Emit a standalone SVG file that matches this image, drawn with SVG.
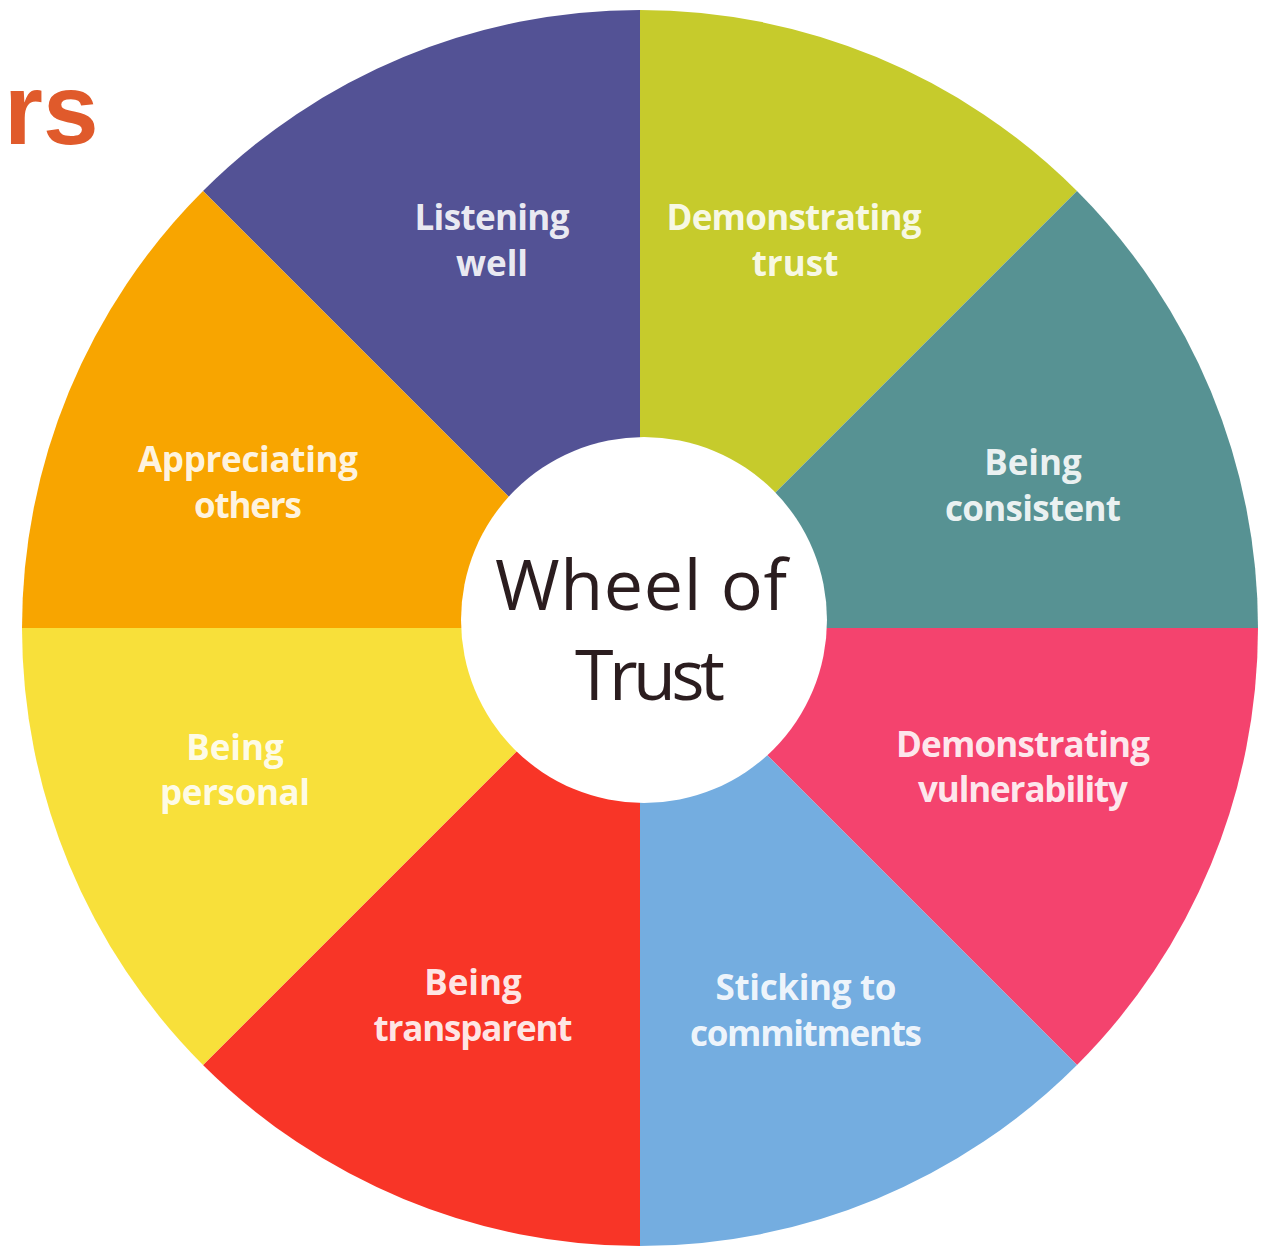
<svg xmlns="http://www.w3.org/2000/svg" width="1269" height="1246" viewBox="0 0 1269 1246">
  <style>
    .lbl { font-family: "Open Sans", "Noto Sans", "Liberation Sans", sans-serif; font-weight: 700; font-size: 35px; fill: #ffffff; fill-opacity: 0.9; text-anchor: middle; }
    .hub { font-family: "Open Sans", "Noto Sans", "Liberation Sans", sans-serif; font-weight: 400; font-size: 70px; fill: #2b1d1f; text-anchor: middle; }
    .head { font-family: "Liberation Sans", Arial, sans-serif; font-weight: 700; font-size: 100px; fill: #e05a2b; }
  </style>
  <rect width="1269" height="1246" fill="#ffffff"/>

  <!-- heading fragment at the left edge -->
  <text class="head" x="4" y="144">rs</text>

  <!-- eight 45-degree sectors around (640,628), radius 618 -->
  <g id="listening-well">
    <path d="M640 628 L203 191 A618 618 0 0 1 640 10 Z" fill="#535295"/>
    <text class="lbl" x="492" y="230" textLength="155">Listening</text>
    <text class="lbl" x="492" y="276">well</text>
  </g>
  <g id="demonstrating-trust">
    <path d="M640 628 L640 10 A618 618 0 0 1 1077 191 Z" fill="#c6cb2c"/>
    <text class="lbl" x="794" y="230" textLength="255">Demonstrating</text>
    <text class="lbl" x="795" y="276">trust</text>
  </g>
  <g id="being-consistent">
    <path d="M640 628 L1077 191 A618 618 0 0 1 1258 628 Z" fill="#579293"/>
    <text class="lbl" x="1033" y="475">Being</text>
    <text class="lbl" x="1033" y="521" textLength="176">consistent</text>
  </g>
  <g id="demonstrating-vulnerability">
    <path d="M640 628 L1258 628 A618 618 0 0 1 1077 1065 Z" fill="#f4436e"/>
    <text class="lbl" x="1023" y="757" textLength="254">Demonstrating</text>
    <text class="lbl" x="1023" y="802" textLength="210">vulnerability</text>
  </g>
  <g id="sticking-to-commitments">
    <path d="M640 628 L1077 1065 A618 618 0 0 1 640 1246 Z" fill="#74ade0"/>
    <text class="lbl" x="806" y="1000" textLength="181">Sticking to</text>
    <text class="lbl" x="806" y="1046" textLength="232">commitments</text>
  </g>
  <g id="being-transparent">
    <path d="M640 628 L640 1246 A618 618 0 0 1 203 1065 Z" fill="#f83527"/>
    <text class="lbl" x="473" y="995">Being</text>
    <text class="lbl" x="473" y="1041" textLength="199">transparent</text>
  </g>
  <g id="being-personal">
    <path d="M640 628 L203 1065 A618 618 0 0 1 22 628 Z" fill="#f8e03a"/>
    <text class="lbl" x="235" y="760">Being</text>
    <text class="lbl" x="235" y="805" textLength="150">personal</text>
  </g>
  <g id="appreciating-others">
    <path d="M640 628 L22 628 A618 618 0 0 1 203 191 Z" fill="#f8a500"/>
    <text class="lbl" x="248" y="472" textLength="220">Appreciating</text>
    <text class="lbl" x="248" y="518" textLength="108">others</text>
  </g>

  <!-- central hub -->
  <g id="wheel-of-trust">
    <circle cx="644" cy="620" r="183" fill="#ffffff"/>
    <text class="hub" x="641" y="610" textLength="292">Wheel of</text>
    <text class="hub" x="650" y="700" textLength="150">Trust</text>
  </g>
</svg>
